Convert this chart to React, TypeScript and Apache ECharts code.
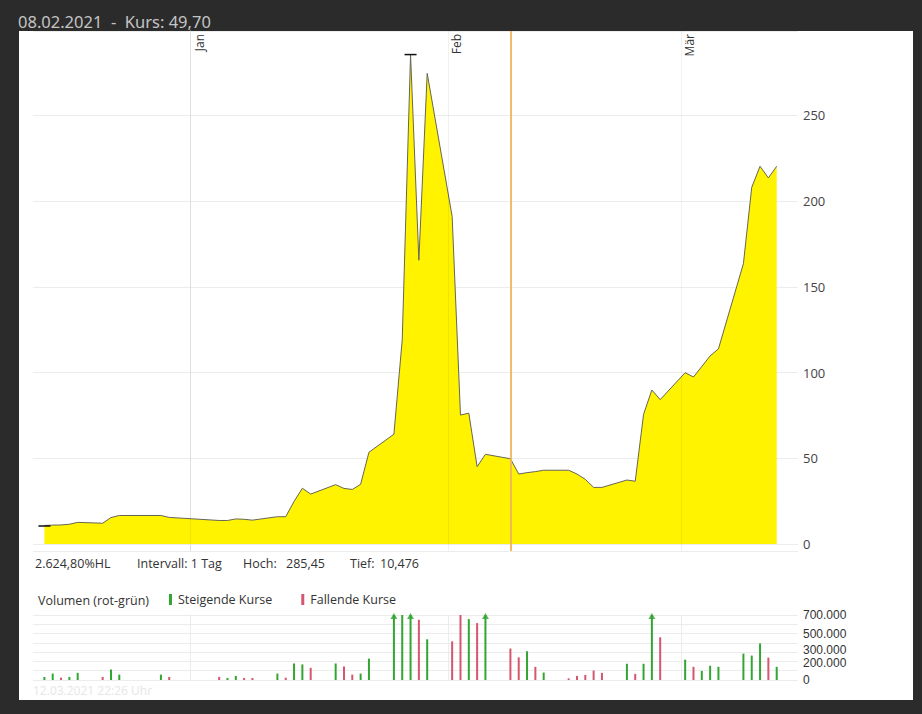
import React, { useEffect, useRef } from "react";
import * as echarts from "echarts";

// ---------- data ----------
const tradingDates = [
  "2020-12-14", "2020-12-15", "2020-12-16", "2020-12-17", "2020-12-18",
  "2020-12-21", "2020-12-22", "2020-12-23", "2020-12-28", "2020-12-29",
  "2021-01-04", "2021-01-05", "2021-01-06", "2021-01-07", "2021-01-08",
  "2021-01-11", "2021-01-12", "2021-01-13", "2021-01-14", "2021-01-15",
  "2021-01-18", "2021-01-19", "2021-01-20", "2021-01-21", "2021-01-22",
  "2021-01-25", "2021-01-26", "2021-01-27", "2021-01-28", "2021-01-29",
  "2021-02-01", "2021-02-02", "2021-02-03", "2021-02-04", "2021-02-05",
  "2021-02-08", "2021-02-09", "2021-02-10", "2021-02-11", "2021-02-12",
  "2021-02-15", "2021-02-16", "2021-02-17", "2021-02-18", "2021-02-19",
  "2021-02-22", "2021-02-23", "2021-02-24", "2021-02-25", "2021-02-26",
  "2021-03-01", "2021-03-02", "2021-03-03", "2021-03-04", "2021-03-05",
  "2021-03-08", "2021-03-09", "2021-03-10", "2021-03-11", "2021-03-12",
];

const closePrices = [
  10.8, 11.0, 11.1, 11.5, 12.6,
  12.1, 15.4, 16.6, 16.6, 15.5,
  13.7, 13.7, 14.6, 14.4, 13.9,
  15.9, 15.9, 24.8, 32.5, 29.1,
  34.6, 32.4, 31.8, 34.8, 53.5,
  64.0, 119.0, 285.45, 165.5, 274.5,
  191.0, 75.2, 76.3, 45.1, 52.3,
  49.7, 40.8, 41.6, 42.2, 43.0,
  43.0, 40.8, 37.7, 33.0, 33.0,
  37.3, 36.6, 75.6, 89.8, 84.2,
  99.9, 97.4, 103.5, 109.7, 113.8,
  163.5, 208.0, 220.3, 213.5, 220.3,
];

const volumes = [
  33000, 69000, 25000, 33000, 77000,
  33000, 113000, 58000, 58000, 33000,
  33000, 22000, 44000, 22000, 22000,
  69000, 25000, 178000, 168000, 131000,
  178000, 146000, 58000, 69000, 230000,
  1250000, 700000, 1600000, 649000, 438000,
  416000, 700000, 656000, 613000, 980000,
  339000, 244000, 310000, 142000, 80000,
  18000, 44000, 55000, 102000, 77000,
  175000, 66000, 175000, 1050000, 460000,
  219000, 142000, 98000, 153000, 142000,
  284000, 263000, 394000, 241000, 142000,
];

// 1 = steigende Kurse, -1 = fallende Kurse
const volumeTrend = [
  1, 1, -1, 1, 1,
  -1, 1, 1, 1, -1,
  -1, 1, 1, -1, -1,
  1, -1, 1, 1, -1,
  1, -1, -1, 1, 1,
  1, 1, 1, -1, 1,
  -1, -1, 1, -1, 1,
  -1, -1, 1, -1, 1,
  -1, -1, -1, -1, -1,
  1, -1, 1, 1, -1,
  1, -1, 1, 1, 1,
  1, 1, 1, -1, 1,
];

const monthStarts = ["2021-01-01", "2021-02-01", "2021-03-01"];
const monthLabels = ["Jan", "Feb", "Mär"];
const volumeTickLabels = [0, 200000, 300000, 500000, 700000];
const VOLUME_MAX = 700000;

const highDate = "2021-01-27";
const highValue = 285.45;
const lowDate = "2020-12-14";
const lowValue = 10.476;
const selectedDate = "2021-02-08";

const titleText = "08.02.2021  -  Kurs: 49,70";
const footerText = "12.03.2021 22:26 Uhr";

// ---------- helpers ----------
const dayNum = (s: string) => {
  const [y, m, d] = s.split("-").map(Number);
  return (Date.UTC(y, m - 1, d) - Date.UTC(2021, 0, 1)) / 86400000;
};
const pointX = (s: string) => dayNum(s) + 0.5;
const fmtThousands = (v: number) =>
  String(v).replace(/\B(?=(\d{3})+(?!\d))/g, ".");

const X_MIN = -18.87;
const X_MAX = 73.06;
const GREEN = "#33a533";
const RED = "#d4566f";
const FONT = "'Open Sans', sans-serif";
const GRID_COLOR = "#ececec";
const VGRID_COLOR = "rgba(0,0,0,0.055)";

export default function App() {
  const ref = useRef<HTMLDivElement>(null);

  useEffect(() => {
    if (!ref.current) return;
    const chart = echarts.init(ref.current, undefined, { renderer: "svg" });

    const priceData = tradingDates.map((d, i) => [pointX(d), closePrices[i]]);
    const upVol = tradingDates
      .map((d, i) => (volumeTrend[i] > 0 ? [pointX(d), volumes[i]] : null))
      .filter(Boolean);
    const downVol = tradingDates
      .map((d, i) => (volumeTrend[i] < 0 ? [pointX(d), volumes[i]] : null))
      .filter(Boolean);
    const arrows = tradingDates
      .map((d, i) =>
        volumes[i] > VOLUME_MAX
          ? {
              value: [pointX(d), VOLUME_MAX],
              itemStyle: { color: volumeTrend[i] > 0 ? GREEN : RED },
            }
          : null
      )
      .filter(Boolean);

    const monthLinesMain = monthStarts.map((m, i) => ({
      xAxis: dayNum(m),
      lineStyle: { color: VGRID_COLOR, width: 1, type: "solid" },
      label: {
        show: true,
        formatter: monthLabels[i],
        position: "insideEndBottom",
        distance: 3,
        color: "#333",
        fontFamily: FONT,
        fontSize: 12,
      },
    }));
    const monthLinesVol = monthStarts.map((m) => ({
      xAxis: dayNum(m),
      lineStyle: { color: GRID_COLOR, width: 1, type: "solid" },
      label: { show: false },
    }));

    const infoFont = "12.5px 'Open Sans', sans-serif";
    const infoText = (x: number, y: number, text: string) => ({
      type: "text",
      x,
      y,
      style: { text, fill: "#333", font: infoFont, textVerticalAlign: "middle" },
    });

    const baseGraphic: any[] = [
      {
        type: "rect",
        z: -10,
        shape: { x: 19, y: 31, width: 894, height: 669 },
        style: { fill: "#ffffff" },
      },
      {
        type: "text",
        x: 18,
        y: 21,
        style: {
          text: titleText,
          fill: "#c4c4c4",
          font: "16.5px 'Noto Sans', sans-serif",
          textVerticalAlign: "middle",
        },
      },
      infoText(35, 563, "2.624,80%HL"),
      infoText(137, 563, "Intervall: 1 Tag"),
      infoText(243, 563, "Hoch:"),
      infoText(286, 563, "285,45"),
      infoText(350, 563, "Tief:"),
      infoText(380, 563, "10,476"),
      infoText(38, 600, "Volumen (rot-grün)"),
      {
        type: "text",
        x: 33,
        y: 690,
        style: {
          text: footerText,
          fill: "#e6e6e6",
          font: "12px 'Open Sans', sans-serif",
          textVerticalAlign: "middle",
        },
      },
    ];

    chart.setOption({
      animation: false,
      backgroundColor: "#2b2b2b",
      textStyle: { fontFamily: FONT },
      graphic: baseGraphic,
      legend: {
        data: ["Steigende Kurse", "Fallende Kurse"],
        left: 169,
        top: 593,
        padding: 0,
        icon: "rect",
        itemWidth: 3,
        itemHeight: 11,
        itemGap: 29,
        selectedMode: false,
        textStyle: { fontFamily: FONT, fontSize: 12.5, color: "#333", padding: [0, 0, 0, 1] },
      },
      grid: [
        { left: 33, right: 124, top: 31, bottom: 163 },
        { left: 33, right: 124, top: 615, bottom: 34 },
      ],
      xAxis: [
        {
          type: "value",
          gridIndex: 0,
          min: X_MIN,
          max: X_MAX,
          axisLine: { show: false },
          axisTick: { show: false },
          axisLabel: { show: false },
          splitLine: { show: false },
        },
        {
          type: "value",
          gridIndex: 1,
          min: X_MIN,
          max: X_MAX,
          axisLine: { show: false },
          axisTick: { show: false },
          axisLabel: { show: false },
          splitLine: { show: false },
        },
      ],
      yAxis: [
        {
          type: "value",
          gridIndex: 0,
          position: "right",
          min: -4.1,
          max: 299.2,
          axisLine: { show: true, lineStyle: { color: GRID_COLOR } },
          axisTick: { show: false },
          axisLabel: {
            margin: 5,
            color: "#444",
            fontFamily: FONT,
            fontSize: 13,
            showMinLabel: false,
            showMaxLabel: false,
          },
          splitLine: { show: true, lineStyle: { color: GRID_COLOR } },
        },
        {
          type: "value",
          gridIndex: 1,
          position: "right",
          min: 0,
          max: VOLUME_MAX,
          interval: 100000,
          axisLine: { show: true, lineStyle: { color: GRID_COLOR } },
          axisTick: { show: false },
          axisLabel: { show: false },
          splitLine: { show: true, lineStyle: { color: GRID_COLOR } },
        },
      ],
      series: [
        {
          type: "line",
          name: "Kurs",
          xAxisIndex: 0,
          yAxisIndex: 0,
          data: priceData,
          symbol: "none",
          lineStyle: { color: "#666655", width: 1 },
          areaStyle: { color: "#fff300", opacity: 1 },
          z: 3,
          markLine: {
            silent: true,
            symbol: ["none", "none"],
            animation: false,
            data: [
              ...monthLinesMain,
              {
                xAxis: pointX(selectedDate),
                lineStyle: { color: "#f0b45c", width: 2, type: "solid", opacity: 0.9 },
                label: { show: false },
              },
            ],
          },
          markPoint: {
            silent: true,
            symbol: "rect",
            symbolSize: [12, 1.5],
            itemStyle: { color: "#111" },
            label: { show: false },
            data: [
              { coord: [pointX(highDate), highValue] },
              { coord: [pointX(lowDate), lowValue] },
            ],
          },
        },
        {
          type: "bar",
          name: "Steigende Kurse",
          xAxisIndex: 1,
          yAxisIndex: 1,
          data: upVol,
          barWidth: 2,
          barGap: "-100%",
          itemStyle: { color: GREEN },
          clip: true,
          markLine: {
            silent: true,
            symbol: ["none", "none"],
            animation: false,
            data: monthLinesVol,
          },
        },
        {
          type: "bar",
          name: "Fallende Kurse",
          xAxisIndex: 1,
          yAxisIndex: 1,
          data: downVol,
          barWidth: 2,
          barGap: "-100%",
          itemStyle: { color: RED },
          clip: true,
        },
        {
          type: "scatter",
          name: "Überlauf",
          xAxisIndex: 1,
          yAxisIndex: 1,
          data: arrows,
          symbol: "triangle",
          symbolSize: [7, 6],
          symbolOffset: [0, 1],
          clip: false,
          z: 5,
        },
      ],
    });

    // Volume axis labels, placed with the axis' own scale; the two close
    // labels (300.000 / 200.000) are nudged apart slightly so they don't collide.
    const labelX =
      (chart.convertToPixel({ xAxisIndex: 1 }, X_MAX) as number) + 5;
    const nudges: Record<number, number> = { 300000: -2, 200000: 2 };
    const volLabels = volumeTickLabels.map((v) => ({
      type: "text",
      x: labelX,
      y: (chart.convertToPixel({ yAxisIndex: 1 }, v) as number) + (nudges[v] || 0),
      style: {
        text: fmtThousands(v),
        fill: "#333",
        font: "12px 'Liberation Sans', Arial, sans-serif",
        lineHeight: 12,
        textVerticalAlign: "middle",
      },
    }));
    chart.setOption({ graphic: [...baseGraphic, ...volLabels] });

    return () => chart.dispose();
  }, []);

  return (
    <div
      ref={ref}
      style={{ position: "fixed", left: 0, top: 0, width: 922, height: 714 }}
    />
  );
}
